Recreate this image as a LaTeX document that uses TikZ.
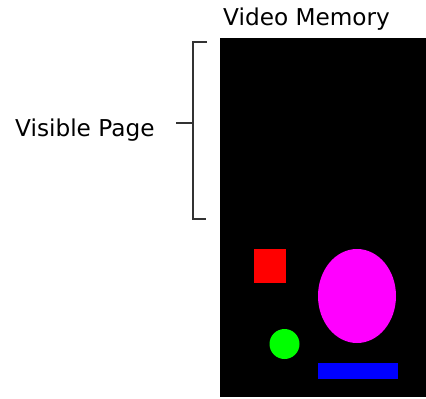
\documentclass[tikz,border=0pt]{standalone}
\usepackage{fontspec}
\setmainfont{DejaVu Sans}
\definecolor{rojo}{RGB}{255,0,0}
\definecolor{fucsia}{RGB}{255,0,255}
\definecolor{verde}{RGB}{0,255,0}
\definecolor{azul}{RGB}{0,0,255}
\tikzset{
    etiqueta/.style={anchor=base west, inner sep=0pt, font=\fontsize{23.2}{27}\selectfont},
    llave/.style={line width=1.6pt, black!80}
}
\begin{document}
\begin{tikzpicture}[x=1pt,y=-1pt]
    \useasboundingbox (0,0) rectangle (426,399);

    % Memoria de video
    \fill[black] (220,38) rectangle (426,397);
    \node[etiqueta] (titulo) at (223,25) {Video Memory};

    % Llave de la pagina visible
    \draw[llave] (207,42) -- (193,42) -- (193,219) -- (206,219);
    \draw[llave] (193,123) -- (176,123);
    \node[etiqueta] (visible) at (15,136) {Visible Page};

    % Figuras en memoria
    \fill[rojo] (254,249) rectangle (286,283);
    \fill[fucsia] (357,296) ellipse [x radius=39pt, y radius=47pt];
    \fill[verde] (284.5,344) circle (15pt);
    \fill[azul] (318,363) rectangle (398,379);
\end{tikzpicture}
\end{document}
